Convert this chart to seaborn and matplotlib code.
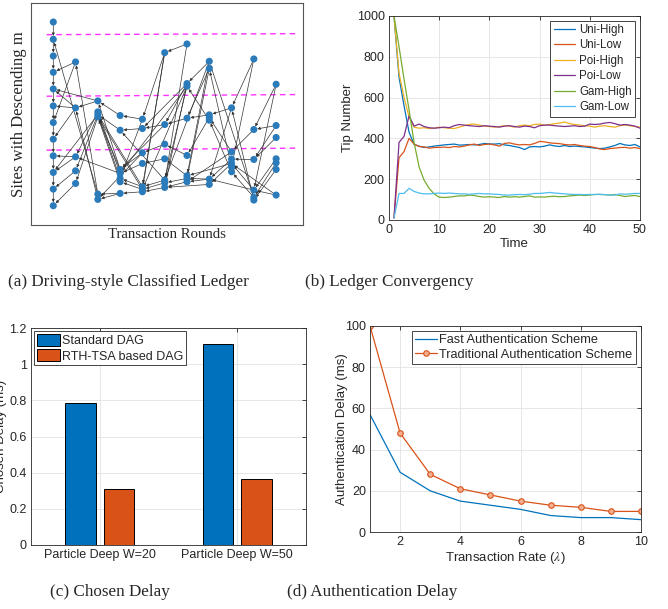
import numpy as np
import pandas as pd
import matplotlib
matplotlib.use("Agg")
import matplotlib.pyplot as plt
import seaborn as sns

sns.set_style("white")
plt.rcParams["font.family"] = ["Liberation Sans", "DejaVu Sans"]
plt.rcParams["mathtext.fontset"] = "stix"

# ---------- (a) ledger DAG: site levels per transaction round ----------
dag_columns = [
    [6.5, 11.7, 16.7, 21.6, 26.6, 31.7, 36.7, 41.7, 46.7, 51.7, 56.7, 61.7],
    [18.5, 32.3, 47.0, 51.2, 55.0],
    [30.2, 33.5, 34.3, 35.0, 58.2, 59.8],
    [34.6, 39.0, 50.8, 52.0, 53.5, 54.5, 58.0],
    [35.7, 38.5, 45.8, 49.0, 56.0, 56.8, 57.5],
    [15.7, 37.3, 43.2, 47.6, 54.0, 54.8, 56.2],
    [13.1, 25.0, 25.8, 35.4, 46.6, 52.7, 53.5, 54.5],
    [18.3, 20.5, 34.4, 35.2, 36.0, 53.7, 55.3],
    [32.3, 45.5, 47.7, 49.0, 50.0, 51.5],
    [17.6, 38.8, 47.8, 57.0, 59.2, 60.0],
    [25.2, 37.6, 41.2, 47.6, 48.8, 50.8, 58.5],
]
dag_edges = [
    ("a0", "a1"), ("a1", "a2"), ("a2", "a3"), ("a3", "a4"), ("a4", "a5"), ("a5", "a6"),
    ("a6", "a7"), ("a7", "a8"), ("a8", "a9"), ("a9", "a10"), ("a10", "a11"),
    ("b0", "a3"), ("b0", "a6"), ("b1", "a5"), ("b1", "a7"), ("b2", "a8"), ("b2", "a9"),
    ("b3", "a10"), ("b4", "a11"), ("b1", "a4"),
    ("c0", "b1"), ("c0", "a4"), ("c1", "b2"), ("c2", "b3"), ("c3", "b4"), ("c4", "b0"),
    ("c4", "a1"), ("c5", "b1"), ("c2", "a9"),
    ("d0", "c0"), ("d1", "c2"), ("d2", "c0"), ("d2", "c3"), ("d3", "c1"), ("d4", "c2"),
    ("d5", "c3"), ("d6", "c4"), ("d3", "b2"), ("d6", "c5"),
    ("e0", "d0"), ("e1", "d1"), ("e2", "d2"), ("e3", "d3"), ("e4", "d4"), ("e5", "d5"),
    ("e6", "d6"), ("e4", "c2"), ("e5", "c3"), ("e2", "c5"), ("e0", "d4"),
    ("f0", "e0"), ("f0", "e4"), ("f1", "e1"), ("f2", "e2"), ("f3", "e3"), ("f4", "e4"),
    ("f5", "e5"), ("f6", "e6"), ("f1", "d2"), ("f4", "d1"), ("f0", "e5"),
    ("g0", "f0"), ("g0", "f5"), ("g1", "f1"), ("g1", "e1"), ("g2", "f4"), ("g2", "e5"),
    ("g3", "f1"), ("g4", "f2"), ("g5", "f3"), ("g6", "f5"), ("g7", "f6"), ("g1", "f6"),
    ("g2", "d3"),
    ("h0", "g1"), ("h0", "g5"), ("h1", "g3"), ("h1", "g6"), ("h2", "g3"), ("h3", "g4"),
    ("h4", "g2"), ("h5", "g7"), ("h6", "f6"), ("h5", "g6"), ("h0", "f4"),
    ("i0", "h2"), ("i0", "h5"), ("i1", "h3"), ("i2", "h5"), ("i3", "h6"), ("i4", "h1"),
    ("i5", "h4"), ("i1", "g7"), ("i3", "g5"),
    ("j0", "i0"), ("j0", "i4"), ("j1", "i1"), ("j2", "i2"), ("j3", "i3"), ("j4", "i5"),
    ("j5", "i0"), ("j3", "h5"), ("j4", "h0"),
    ("k0", "j1"), ("k0", "j3"), ("k1", "j1"), ("k2", "j2"), ("k3", "j3"), ("k4", "j4"),
    ("k5", "j5"), ("k6", "j3"), ("k6", "i3"), ("k1", "j2"),
]
sep_left = [10.3, 28.8, 45.0]
sep_right = [10.0, 28.3, 44.4]

# ---------- (b) ledger convergency ----------
time = list(range(1, 51))
uni_high = [1000, 700, 560, 430, 370, 362, 355, 358, 362, 365, 368, 370, 372, 367, 368, 370, 368,
            370, 375, 373, 372, 374, 368, 365, 360, 355, 345, 358, 360, 358, 362, 368, 363, 360,
            365, 360, 362, 360, 358, 355, 352, 350, 352, 358, 365, 375, 368, 365, 370, 358]
uni_low = [10, 305, 335, 400, 372, 360, 358, 352, 355, 356, 357, 355, 360, 358, 362, 368, 372,
           365, 370, 372, 368, 362, 375, 378, 372, 368, 370, 368, 375, 385, 383, 378, 376, 374,
           370, 368, 370, 365, 362, 360, 355, 348, 345, 350, 352, 355, 356, 352, 355, 350]
poi_high = [1000, 720, 600, 505, 455, 450, 452, 448, 450, 455, 452, 450, 448, 455, 462, 468, 470,
            465, 460, 458, 455, 458, 462, 460, 455, 462, 465, 462, 468, 470, 465, 468, 472, 475,
            480, 472, 468, 465, 462, 460, 455, 460, 462, 458, 455, 462, 465, 462, 458, 455]
poi_low = [10, 380, 410, 510, 460, 470, 458, 452, 450, 452, 455, 452, 462, 468, 465, 462, 460,
           458, 462, 460, 458, 455, 460, 462, 458, 455, 460, 458, 452, 462, 465, 465, 462, 460,
           458, 460, 462, 458, 460, 470, 468, 470, 475, 478, 472, 465, 468, 465, 460, 450]
gam_high = [1000, 850, 690, 540, 380, 260, 195, 155, 128, 112, 110, 112, 115, 118, 118, 122, 120,
            115, 112, 114, 112, 110, 115, 112, 114, 112, 115, 118, 112, 113, 112, 115, 116, 114,
            115, 118, 120, 122, 120, 122, 125, 125, 124, 122, 125, 120, 115, 118, 120, 115]
gam_low = [10, 130, 130, 155, 140, 132, 128, 128, 130, 132, 130, 132, 130, 128, 128, 126, 128,
           130, 128, 128, 126, 125, 122, 122, 124, 125, 124, 126, 130, 130, 132, 135, 132, 130,
           128, 126, 125, 125, 124, 125, 125, 126, 124, 122, 122, 128, 126, 128, 130, 130]
series_names = ["Uni-High", "Uni-Low", "Poi-High", "Poi-Low", "Gam-High", "Gam-Low"]
series_colors = ["#0072BD", "#D95319", "#EDB120", "#7E2F8E", "#77AC30", "#4DBEEE"]

# ---------- (c) chosen delay ----------
depths = ["Particle Deep W=20", "Particle Deep W=50"]
standard_dag = [0.785, 1.11]
rth_tsa_dag = [0.31, 0.365]

# ---------- (d) authentication delay ----------
rate = [1, 2, 3, 4, 5, 6, 7, 8, 9, 10]
fast_auth = [57, 29, 20, 15, 13, 11, 8, 7, 7, 6]
trad_auth = [100, 48, 28, 21, 18, 15, 13, 12, 10, 10]

ink = "#262626"


def matlab_axes(ax):
    for s in ax.spines.values():
        s.set_color(ink)
        s.set_linewidth(0.6)
    ax.tick_params(direction="in", length=3, width=0.6, colors=ink, labelsize=9,
                   top=True, right=True, pad=3)
    ax.grid(True, color="#e3e3e3", lw=0.6)
    ax.set_axisbelow(True)


fig = plt.figure(figsize=(6.68, 6.09), dpi=100)

# (a)
ax = fig.add_axes([0.0464, 0.6305, 0.407, 0.3645])
pos = {}
rows = []
for c, col in enumerate(dag_columns):
    for k, y in enumerate(col):
        pos["abcdefghijk"[c] + str(k)] = (c, y)
        rows.append({"round": c, "site": y})
for src, dst in dag_edges:
    ax.annotate("", xy=pos[dst], xytext=pos[src],
                arrowprops=dict(arrowstyle="-|>", color="#333333", lw=0.5,
                                mutation_scale=4, shrinkA=0, shrinkB=2.5))
for yl, yr in zip(sep_left, sep_right):
    ax.plot([-0.3, 10.9], [yl, yr], ls=(0, (4, 3)), color="#ff33ff", lw=1.0, zorder=1)
sns.scatterplot(data=pd.DataFrame(rows), x="round", y="site", color="#2b7bba", s=26,
                edgecolor="none", ax=ax, zorder=3)
ax.set_xlim(-1.0, 11.2)
ax.set_ylim(67.5, 0.8)
ax.set_xticks([])
ax.set_yticks([])
for s in ax.spines.values():
    s.set_color("#555555")
    s.set_linewidth(0.8)
ax.set_xlabel("Transaction Rounds", family="Liberation Serif", fontsize=10.6, labelpad=2)
ax.set_ylabel("Sites with Descending m", family="Liberation Serif", fontsize=12)
ax.yaxis.set_label_coords(-0.015, 0.5)

# (b)
ax = fig.add_axes([0.5823, 0.6388, 0.3757, 0.335])
dfb = pd.DataFrame({
    "Time": time * 6,
    "Tip Number": uni_high + uni_low + poi_high + poi_low + gam_high + gam_low,
    "Series": sum([[n] * len(time) for n in series_names], []),
})
sns.lineplot(data=dfb, x="Time", y="Tip Number", hue="Series", hue_order=series_names,
             palette=series_colors, lw=0.9, ax=ax, legend=True)
matlab_axes(ax)
ax.set_xlim(0, 50)
ax.set_ylim(0, 1000)
ax.set_xticks([0, 10, 20, 30, 40, 50])
ax.set_yticks([0, 200, 400, 600, 800, 1000])
ax.set_xlabel("Time", fontsize=9.5, color=ink, labelpad=1)
ax.set_ylabel("Tip Number", fontsize=9.5, color=ink, labelpad=2)
h, l = ax.get_legend_handles_labels()
ax.legend(h, l, loc="upper right", fontsize=8.3, frameon=True, fancybox=False,
          edgecolor=ink, framealpha=1, handlelength=1.8, handletextpad=0.4,
          labelspacing=0.3, borderpad=0.3, borderaxespad=0.4).get_frame().set_linewidth(0.6)

# (c)
ax = fig.add_axes([0.0464, 0.1051, 0.4117, 0.3563])
dfc = pd.DataFrame({
    "Depth": depths * 2,
    "Delay": standard_dag + rth_tsa_dag,
    "Scheme": ["Standard DAG"] * 2 + ["RTH-TSA based DAG"] * 2,
})
sns.barplot(data=dfc, x="Depth", y="Delay", hue="Scheme", palette=["#0072BD", "#D95319"],
            saturation=1, width=0.56, gap=0.2, edgecolor="black", linewidth=0.7, ax=ax)
matlab_axes(ax)
ax.set_xlim(-0.5, 1.5)
ax.set_ylim(0, 1.2)
ax.set_yticks([0, 0.2, 0.4, 0.6, 0.8, 1.0, 1.2])
ax.set_yticklabels(["0", "0.2", "0.4", "0.6", "0.8", "1", "1.2"])
ax.set_xlabel("")
ax.set_ylabel("Chosen Delay (ms)", fontsize=9.5, color=ink)
ax.yaxis.set_label_coords(-0.087, 0.5)
h, l = ax.get_legend_handles_labels()
ax.legend(h, l, loc="upper left", fontsize=9, frameon=True, fancybox=False,
          edgecolor=ink, framealpha=1, handlelength=1.9, handleheight=1.1,
          handletextpad=0.15, labelspacing=0.2, borderpad=0.2,
          borderaxespad=0.25).get_frame().set_linewidth(0.6)

# (d)
ax = fig.add_axes([0.5539, 0.1264, 0.4057, 0.3383])
dfd = pd.DataFrame({"rate": rate, "fast": fast_auth, "trad": trad_auth})
sns.lineplot(data=dfd, x="rate", y="fast", color="#0072BD", lw=0.9, ax=ax,
             label="Fast Authentication Scheme")
sns.lineplot(data=dfd, x="rate", y="trad", color="#D95319", lw=0.9, marker="o",
             markersize=4, markerfacecolor="#f2b090", markeredgecolor="#D95319",
             markeredgewidth=0.8, ax=ax, label="Traditional Authentication Scheme")
matlab_axes(ax)
ax.set_xlim(1, 10)
ax.set_ylim(0, 100)
ax.set_xticks([2, 4, 6, 8, 10])
ax.set_yticks([0, 20, 40, 60, 80, 100])
ax.set_xlabel(r"Transaction Rate ($\lambda$)", fontsize=9.5, color=ink, labelpad=1)
ax.set_ylabel("Authentication Delay (ms)", fontsize=9.5, color=ink)
ax.yaxis.set_label_coords(-0.081, 0.5)
ax.legend(loc="upper right", fontsize=9.2, frameon=True, fancybox=False,
          edgecolor=ink, framealpha=1, handlelength=1.7, handletextpad=0.2,
          labelspacing=0.2, borderpad=0.25, borderaxespad=0.4).get_frame().set_linewidth(0.6)

# captions
cap = dict(family="Liberation Serif", fontsize=12.3, va="center", ha="left")
fig.text(0.012, 0.537, "(a) Driving-style Classified Ledger", **cap)
fig.text(0.4566, 0.537, "(b) Ledger Convergency", **cap)
fig.text(0.075, 0.028, "(c) Chosen Delay", **cap)
fig.text(0.4296, 0.028, "(d) Authentication Delay", **cap)

fig.savefig("out.png", dpi=100)
